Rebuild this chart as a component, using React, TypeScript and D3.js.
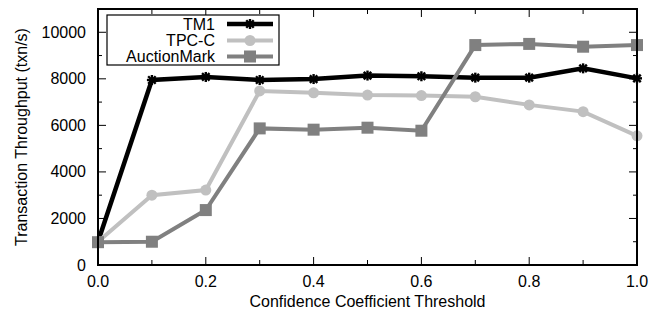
import React from "react";
import * as d3 from "d3";

const thresholds = [0, 0.1, 0.2, 0.3, 0.4, 0.5, 0.6, 0.7, 0.8, 0.9, 1.0];
const tm1 = [1000, 7950, 8080, 7950, 7990, 8140, 8110, 8050, 8050, 8450, 8020];
const tpcc = [1000, 3000, 3220, 7480, 7400, 7300, 7280, 7230, 6880, 6590, 5550];
const auction = [980, 1000, 2360, 5870, 5815, 5900, 5770, 9450, 9500, 9380, 9450];
const xTickLabels = [0, 0.2, 0.4, 0.6, 0.8, 1.0];
const yTickLabels = [0, 2000, 4000, 6000, 8000, 10000];
const seriesNames = ["TM1", "TPC-C", "AuctionMark"];

const W = 664, H = 314;
const L = 98, R = 637, T = 9, B = 265;
const FONT = "'Liberation Sans', Arial, Helvetica, sans-serif";
const FS = 16;

function Star({ x, y, s, color }: { x: number; y: number; s: number; color: string }) {
  const d = s * 0.75;
  return (
    <g stroke={color} strokeWidth={2.4}>
      <line x1={x - s} y1={y} x2={x + s} y2={y} />
      <line x1={x} y1={y - s} x2={x} y2={y + s} />
      <line x1={x - d} y1={y - d} x2={x + d} y2={y + d} />
      <line x1={x - d} y1={y + d} x2={x + d} y2={y - d} />
    </g>
  );
}

export default function App() {
  const x = d3.scaleLinear().domain([0, 1]).range([L, R]);
  const y = d3.scaleLinear().domain([0, 11000]).range([B, T]);
  const line = d3
    .line<number>()
    .x((_, i) => x(thresholds[i]))
    .y((v) => y(v));

  const xMinor = d3.range(0, 11).map((i) => i / 10);
  const yMinor = d3.range(0, 12).map((i) => i * 1000);

  const series = [
    { name: seriesNames[0], data: tm1, color: "#000000", marker: "star", w: 4.5 },
    { name: seriesNames[1], data: tpcc, color: "#c0c0c0", marker: "circle", w: 4 },
    { name: seriesNames[2], data: auction, color: "#808080", marker: "square", w: 4 },
  ];

  const drawMarker = (m: string, cx: number, cy: number, color: string, key: string) => {
    if (m === "star") return <Star key={key} x={cx} y={cy} s={5} color={color} />;
    if (m === "circle") return <circle key={key} cx={cx} cy={cy} r={5.5} fill={color} />;
    return <rect key={key} x={cx - 6} y={cy - 6} width={12} height={12} fill={color} />;
  };

  const legendRows = [24, 40.5, 56.5];

  return (
    <svg width={W} height={H} style={{ position: "absolute", left: 0, top: 0, background: "#fff" }} fontFamily={FONT}>
      <rect x={0} y={0} width={W} height={H} fill="#fff" />
      {/* ticks */}
      <g stroke="#000" strokeWidth={1}>
        {xMinor.map((v, i) => {
          const big = i % 2 === 0;
          const len = big ? 8 : 5;
          return (
            <g key={"xt" + i}>
              <line x1={x(v)} x2={x(v)} y1={B} y2={B - len} />
              <line x1={x(v)} x2={x(v)} y1={T} y2={T + len} />
            </g>
          );
        })}
        {yMinor.map((v, i) => {
          const big = i % 2 === 0;
          const len = big ? 8 : 4;
          return (
            <g key={"yt" + i}>
              <line x1={L} x2={L + len} y1={y(v)} y2={y(v)} />
              <line x1={R} x2={R - len} y1={y(v)} y2={y(v)} />
            </g>
          );
        })}
      </g>
      {/* series */}
      {series.map((s) => (
        <g key={s.name}>
          <path d={line(s.data) || ""} fill="none" stroke={s.color} strokeWidth={s.w} strokeLinejoin="miter" />
        </g>
      ))}
      {series.map((s) => (
        <g key={s.name + "m"}>
          {s.data.map((v, i) => drawMarker(s.marker, x(thresholds[i]), y(v), s.color, s.name + i))}
        </g>
      ))}
      {/* frame */}
      <rect x={L} y={T} width={R - L} height={B - T} fill="none" stroke="#000" strokeWidth={2} />
      {/* tick labels */}
      <g fontSize={FS} fill="#000">
        {xTickLabels.map((v) => (
          <text key={"xl" + v} x={x(v)} y={287} textAnchor="middle">
            {v.toFixed(1)}
          </text>
        ))}
        {yTickLabels.map((v) => (
          <text key={"yl" + v} x={86} y={y(v) + 5.5} textAnchor="end">
            {v}
          </text>
        ))}
      </g>
      <text x={(L + R) / 2} y={307} textAnchor="middle" fontSize={FS}>
        Confidence Coefficient Threshold
      </text>
      <text transform={`translate(27,${(T + B) / 2}) rotate(-90)`} textAnchor="middle" fontSize={FS}>
        Transaction Throughput (txn/s)
      </text>
      {/* legend */}
      <rect x={107} y={15} width={172} height={50} fill="#fff" stroke="#000" strokeWidth={1.2} />
      {series.map((s, i) => (
        <g key={"lg" + s.name}>
          <text x={215} y={legendRows[i] + 5.5} textAnchor="end" fontSize={FS}>
            {s.name}
          </text>
          <line x1={227} x2={273} y1={legendRows[i]} y2={legendRows[i]} stroke={s.color} strokeWidth={s.w} />
          {drawMarker(s.marker, 250, legendRows[i], s.color, "lm" + i)}
        </g>
      ))}
    </svg>
  );
}
